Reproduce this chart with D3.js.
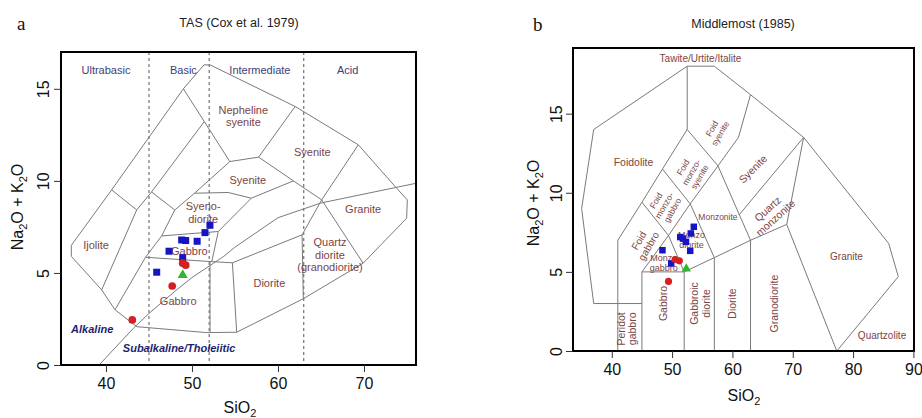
<!DOCTYPE html>
<html>
<head>
<meta charset="utf-8">
<script src="https://cdn.jsdelivr.net/npm/d3@7/dist/d3.min.js"></script>
<style>
  body { margin: 0; background: #fff; }
  svg { font-family: Arial, "Liberation Sans", sans-serif; }
</style>
</head>
<body>
<svg id="chart" width="922" height="418"></svg>
<script>
// ---- data: panel a, TAS (Cox et al. 1979) ----
const xTicksA = [40, 50, 60, 70];
const yTicksA = [0, 5, 10, 15];
const dividersA = [45, 52, 63];
const dividerNamesA = [["Ultrabasic", 40.0], ["Basic", 49.0], ["Intermediate", 57.9], ["Acid", 68.1]];

const outerA = [[35.97,6.5],[35.97,5.9],[39.5,4.08],[41.05,3.0],[43.6,2.08],[51.7,1.76],[55.2,1.78],
  [62.95,3.6],[69.9,5.53],[74.96,7.97],[75.04,8.97],[73.8,9.6],[69.34,11.96],[62.0,14.04],
  [52.1,16.3],[51.4,16.3],[49.0,15.0],[40.66,9.51],[35.97,6.5]];
const fieldLinesA = [
  [[49.0,15.0],[54.4,11.05]],
  [[54.4,11.05],[57.75,11.29],[62.0,14.04]],
  [[57.75,11.29],[61.8,10.0],[65.08,8.97],[69.9,5.53]],
  [[65.08,8.97],[69.34,11.96]],
  [[65.08,8.97],[62.8,7.07],[62.95,3.6]],
  [[44.6,5.85],[52.1,5.62],[54.7,5.55],[62.8,7.07]],
  [[54.7,5.55],[55.2,1.78]],
  [[52.1,5.62],[52.1,1.76]],
  [[39.5,4.08],[43.57,8.42],[45.3,9.4],[51.4,13.2]],
  [[40.66,9.51],[43.57,8.42]],
  [[45.3,9.4],[48.0,8.42]],
  [[41.05,3.0],[44.6,5.85],[46.47,7.01],[48.0,8.42],[50.3,9.33],[54.4,11.05]],
  [[50.3,9.33],[54.2,9.37],[56.9,9.06],[61.8,10.0]],
  [[56.9,9.06],[53.06,7.25]],
  [[46.47,7.01],[53.06,7.25],[52.3,5.62]]
];
// Irvine & Baragar alkaline / subalkaline divide
const irvineSiO2 = [39.2, 40, 43.2, 45, 48, 50, 53.7, 55, 60, 65, 77.4];
const irvineAlk  = [0, 0.4, 2, 2.8, 4, 4.75, 5.9, 6.4, 8, 8.8, 10];

const fieldNamesA = [
  [["Nepheline","syenite"], 55.97, 13.5, 0],
  [["Syenite"], 64.0, 11.54, 0],
  [["Syenite"], 56.5, 10.05, 0],
  [["Syeno-","diorite"], 51.3, 8.27, 0],
  [["Gabbro"], 49.7, 6.21, 0],
  [["Gabbro"], 48.4, 3.48, 0],
  [["Ijolite"], 38.84, 6.52, 0],
  [["Diorite"], 59.0, 4.47, 0],
  [["Quartz","diorite","(granodiorite)"], 66.05, 5.98, 0],
  [["Granite"], 69.9, 8.48, 0]
];
const seriesNamesA = [["Alkaline", 38.4, 1.96], ["Subalkaline/Tholeiitic", 48.5, 0.94]];

const squaresA = [[52.09,7.59],[51.51,7.19],[48.8,6.79],[49.27,6.76],[50.6,6.72],[47.33,6.18],[48.92,5.83],[45.9,5.04]];
const circlesA = [[48.92,5.53],[49.27,5.42],[47.7,4.29],[43.06,2.45]];
const trianglesA = [[48.92,4.89]];

// ---- data: panel b, Middlemost (1985) ----
const xTicksB = [40, 50, 60, 70, 80, 90];
const yTicksB = [0, 5, 10, 15];
const outerB = [[37,3],[35,9],[37,14],[52.5,18],[57,18],[63,16.2],[71.8,13.5],[85.9,6.8],[87.5,4.7],[77.3,0]];
const fieldLinesB = [
  [[41,0],[41,7]],
  [[37,3],[45,3]],
  [[45,0],[45,5]],
  [[52,0],[52,5]],
  [[57,0],[57,5.9]],
  [[63,0],[63,7]],
  [[45,5],[52,5]],
  [[52,5],[57,5.9],[63,7],[69,8]],
  [[69,8],[77.3,0]],
  [[69,8],[71.8,13.5]],
  [[61.1,8.6],[71.8,13.5]],
  [[41,7],[45,9.4],[48.4,11.5],[52.5,14]],
  [[45,5],[49.4,7.3],[53,9.3],[57.6,11.7],[61,13.5],[63,16.2]],
  [[45,9.4],[49.4,7.3],[52,5]],
  [[48.4,11.5],[53,9.3],[57,5.9]],
  [[52.5,14],[57.6,11.7],[63,7]],
  [[52.5,14],[52.5,18]]
];
const fieldNamesB = [
  [["Tawite/Urtite/Italite"], 54.7, 18.5, 0, 10],
  [["Foidolite"], 43.6, 11.9, 0, 10.5],
  [["Foid","syenite"], 57.3, 13.9, -60, 8.5],
  [["Foid","monzo-","syenite"], 53.2, 11.3, -60, 8.5],
  [["Foid","monzo-","gabbro"], 48.7, 9.2, -60, 8.5],
  [["Foid","gabbro"], 45.3, 6.8, -60, 10],
  [["Monzonite"], 57.6, 8.44, 0, 8.5],
  [["Syenite"], 63.4, 11.5, -45, 10.5],
  [["Quartz","monzonite"], 66.5, 8.7, -42, 10.5],
  [["Monzo","diorite"], 53.2, 7.0, 0, 9],
  [["Monzo","gabbro"], 48.6, 5.6, 0, 9],
  [["Gabbro"], 48.5, 3.0, -90, 10.5],
  [["Gabbroic","diorite"], 54.7, 3.0, -90, 10.5],
  [["Diorite"], 60.0, 3.0, -90, 10.5],
  [["Granodiorite"], 67.0, 3.0, -90, 10.5],
  [["Peridot","gabbro"], 42.5, 1.4, -90, 10.5],
  [["Granite"], 78.9, 5.95, 0, 10],
  [["Quartzolite"], 84.8, 1.0, 0, 10]
];
const squaresB = [[53.6,7.85],[53.1,7.43],[51.35,7.2],[51.8,7.1],[52.3,6.9],[53.0,6.33],[48.4,6.37],[49.85,5.53]];
const circlesB = [[50.5,5.78],[51.2,5.7],[49.4,4.4]];
const trianglesB = [[52.35,5.2]];

// ---- drawing ----
const svg = d3.select("#chart");
const lineCol = "#7a7a7a", nameCol = "#7a4545";

function drawPanel(p) {
  const x = d3.scaleLinear().domain(p.xDomain).range([p.box.l, p.box.r]);
  const y = d3.scaleLinear().domain(p.yDomain).range([p.box.b, p.box.t]);
  const g = svg.append("g").attr("class", "panel-" + p.id);
  const clipId = "clip-" + p.id;
  g.append("clipPath").attr("id", clipId).append("rect")
    .attr("x", p.box.l).attr("y", p.box.t).attr("width", p.box.r - p.box.l).attr("height", p.box.b - p.box.t);
  const plot = g.append("g").attr("clip-path", `url(#${clipId})`);
  const line = d3.line().x(d => x(d[0])).y(d => y(d[1]));

  (p.dividers || []).forEach(v => {
    plot.append("line").attr("x1", x(v)).attr("x2", x(v)).attr("y1", p.box.t).attr("y2", p.box.b)
      .attr("stroke", "#555").attr("stroke-width", 1).attr("stroke-dasharray", "3,3");
  });
  plot.append("path").attr("d", line(p.outer)).attr("fill", "none").attr("stroke", lineCol).attr("stroke-width", 1);
  p.lines.forEach(l => plot.append("path").attr("d", line(l)).attr("fill", "none").attr("stroke", lineCol).attr("stroke-width", 1));
  if (p.divide) {
    plot.append("path").attr("d", line(p.divide)).attr("fill", "none").attr("stroke", lineCol).attr("stroke-width", 1);
  }

  (p.dividerNames || []).forEach(d => {
    plot.append("text").attr("x", x(d[1])).attr("y", y(16.0)).attr("dy", "0.35em")
      .attr("text-anchor", "middle").attr("font-size", 11).attr("fill", "#3d3d78").text(d[0]);
  });

  p.names.forEach(n => {
    const size = n[4] || 11;
    const t = plot.append("text")
      .attr("transform", `translate(${x(n[1])},${y(n[2])}) rotate(${n[3]})`)
      .attr("text-anchor", "middle").attr("font-size", size).attr("fill", nameCol);
    const k = n[0].length;
    n[0].forEach((s, i) => {
      t.append("tspan").attr("x", 0).attr("y", (i - (k - 1) / 2) * size * 1.12).attr("dy", "0.35em").text(s);
    });
  });

  (p.seriesNames || []).forEach(d => {
    plot.append("text").attr("x", x(d[1])).attr("y", y(d[2])).attr("dy", "0.35em")
      .attr("text-anchor", "middle").attr("font-size", 11).attr("font-weight", "bold")
      .attr("font-style", "italic").attr("fill", "#1e1e6e").text(d[0]);
  });

  const s = p.markSize;
  plot.selectAll(".sq").data(p.squares).enter().append("rect")
    .attr("x", d => x(d[0]) - s / 2).attr("y", d => y(d[1]) - s / 2)
    .attr("width", s).attr("height", s).attr("fill", "#1515c4");
  plot.selectAll(".ci").data(p.circles).enter().append("circle")
    .attr("cx", d => x(d[0])).attr("cy", d => y(d[1])).attr("r", s * 0.55).attr("fill", "#d42020");
  const tri = d3.symbol().type(d3.symbolTriangle).size(s * s * 0.9);
  plot.selectAll(".tr").data(p.triangles).enter().append("path")
    .attr("d", tri).attr("transform", d => `translate(${x(d[0])},${y(d[1])})`).attr("fill", "#2fb52f");

  // box
  g.append("rect").attr("x", p.box.l).attr("y", p.box.t)
    .attr("width", p.box.r - p.box.l).attr("height", p.box.b - p.box.t)
    .attr("fill", "none").attr("stroke", "#000").attr("stroke-width", 2);

  // axes
  const ax = g.append("g").attr("transform", `translate(0,${p.box.b})`)
    .call(d3.axisBottom(x).tickValues(p.xTicks).tickSize(7).tickPadding(6));
  ax.select(".domain").remove();
  ax.selectAll("text").attr("font-size", 16).attr("font-family", "Arial, 'Liberation Sans', sans-serif").attr("fill", "#111");
  ax.selectAll("line").attr("stroke", "#333");

  const ay = g.append("g").attr("transform", `translate(${p.box.l},0)`)
    .call(d3.axisLeft(y).tickValues(p.yTicks).tickSize(7));
  ay.select(".domain").remove();
  ay.selectAll("line").attr("stroke", "#333");
  ay.selectAll("text").attr("x", 0).attr("dy", "0.36em")
    .attr("transform", `translate(${-p.yLabelOff},0) rotate(-90)`)
    .attr("text-anchor", "middle").attr("font-size", 16)
    .attr("font-family", "Arial, 'Liberation Sans', sans-serif").attr("fill", "#111");

  // titles
  g.append("text").attr("x", p.titleX).attr("y", p.titleY).attr("text-anchor", "middle")
    .attr("font-size", 12.5).attr("fill", "#222").text(p.title);
  g.append("text").attr("x", p.letterX).attr("y", p.letterY)
    .attr("font-family", "'Liberation Serif', 'DejaVu Serif', serif").attr("font-size", 19).attr("fill", "#111").text(p.id);

  const xt = g.append("text").attr("x", p.xTitle[0]).attr("y", p.xTitle[1]).attr("text-anchor", "middle")
    .attr("font-size", 16).attr("fill", "#111");
  xt.append("tspan").text("SiO");
  xt.append("tspan").attr("font-size", 11).attr("dy", 4).text("2");

  const yt = g.append("text").attr("transform", `translate(${p.yTitle[0]},${p.yTitle[1]}) rotate(-90)`)
    .attr("text-anchor", "middle").attr("font-size", 16).attr("fill", "#111");
  yt.append("tspan").text("Na");
  yt.append("tspan").attr("font-size", 11).attr("dy", 4).text("2");
  yt.append("tspan").attr("dy", -4).text("O + K");
  yt.append("tspan").attr("font-size", 11).attr("dy", 4).text("2");
  yt.append("tspan").attr("dy", -4).text("O");
}

drawPanel({
  id: "a", box: { l: 61, r: 416, t: 52, b: 365 },
  xDomain: [34.77, 76.05], yDomain: [0, 17],
  xTicks: xTicksA, yTicks: yTicksA, yLabelOff: 18,
  dividers: dividersA, dividerNames: dividerNamesA,
  outer: outerA, lines: fieldLinesA,
  divide: irvineSiO2.map((v, i) => [v, irvineAlk[i]]),
  names: fieldNamesA, seriesNames: seriesNamesA,
  squares: squaresA, circles: circlesA, triangles: trianglesA, markSize: 7,
  title: "TAS (Cox et al. 1979)", titleX: 239, titleY: 27,
  letterX: 17, letterY: 30,
  xTitle: [240, 413], yTitle: [23, 207]
});

drawPanel({
  id: "b", box: { l: 573, r: 914, t: 48, b: 351 },
  xDomain: [33.57, 90.1], yDomain: [0, 19.15],
  xTicks: xTicksB, yTicks: yTicksB, yLabelOff: 17,
  outer: outerB, lines: fieldLinesB,
  names: fieldNamesB,
  squares: squaresB, circles: circlesB, triangles: trianglesB, markSize: 6.5,
  title: "Middlemost (1985)", titleX: 743, titleY: 28,
  letterX: 533, letterY: 31,
  xTitle: [744, 401], yTitle: [539, 203]
});
</script>
</body>
</html>
